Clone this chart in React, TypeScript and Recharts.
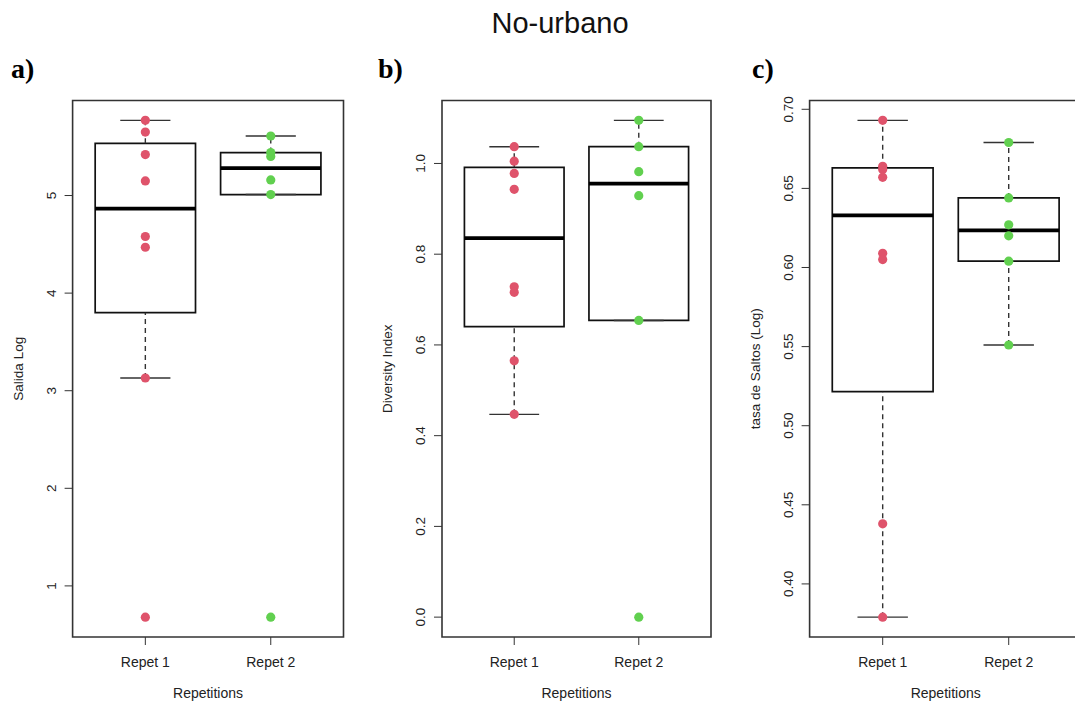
import React from 'react';
import {
  ComposedChart, Scatter, XAxis, YAxis, ReferenceArea, ReferenceLine, Label,
} from 'recharts';

// values, one array per repetition
const categories = ['Repet 1', 'Repet 2'];

const salidaRepet1 = [5.77, 5.65, 5.42, 5.15, 4.58, 4.47, 3.13, 0.68];
const salidaRepet2 = [5.61, 5.44, 5.40, 5.16, 5.01, 0.68];

const diversityRepet1 = [1.037, 1.005, 0.978, 0.943, 0.728, 0.716, 0.565, 0.447];
const diversityRepet2 = [1.095, 1.037, 0.982, 0.929, 0.654, 0.0];

const saltosRepet1 = [0.693, 0.664, 0.662, 0.657, 0.609, 0.605, 0.438, 0.379];
const saltosRepet2 = [0.679, 0.644, 0.627, 0.620, 0.604, 0.551];

const salidaTicks = [1, 2, 3, 4, 5];
const diversityTicks = [0, 0.2, 0.4, 0.6, 0.8, 1.0];
const saltosTicks = [0.4, 0.45, 0.5, 0.55, 0.6, 0.65, 0.7];

const groupColors = ['#DF536B', '#61D04F'];
const FONT = '"Liberation Sans", Arial, sans-serif';

// Tukey hinges, same as R's fivenum()
function fivenum(values: number[]) {
  const s = [...values].sort((a, b) => a - b);
  const n = s.length;
  const n4 = Math.floor((n + 3) / 2) / 2;
  const d = [1, n4, (n + 1) / 2, n + 1 - n4, n];
  return d.map((i) => 0.5 * (s[Math.floor(i) - 1] + s[Math.ceil(i) - 1]));
}

function boxStats(values: number[]) {
  const [, q1, med, q3] = fivenum(values);
  const iqr = q3 - q1;
  const inside = values.filter((v) => v >= q1 - 1.5 * iqr && v <= q3 + 1.5 * iqr);
  return {
    q1, med, q3, lo: Math.min(...inside), hi: Math.max(...inside),
  };
}

type PanelProps = {
  left: number;
  width: number;
  axisWidth: number;
  rightMargin: number;
  groups: number[][];
  ticks: number[];
  digits: number;
  yTitle: string;
};

const YTick = (props: any) => {
  const { x, y, payload, digits } = props;
  return (
    <text
      x={x}
      y={y}
      transform={`rotate(-90 ${x} ${y})`}
      textAnchor="middle"
      fontSize={13.5}
      fontFamily={FONT}
      fill="#222"
    >
      {Number(payload.value).toFixed(digits)}
    </text>
  );
};

function Panel({
  left, width, axisWidth, rightMargin, groups, ticks, digits, yTitle,
}: PanelProps) {
  const all = groups.flat();
  const mn = Math.min(...all);
  const mx = Math.max(...all);
  const pad = (mx - mn) * 0.04;
  const yDomain: [number, number] = [mn - pad, mx + pad];
  const xDomain: [number, number] = [0.42, 2.58];

  return (
    <div style={{ position: 'absolute', left, top: 0 }}>
      <ComposedChart
        width={width}
        height={703}
        margin={{ top: 100.5, right: rightMargin, bottom: 0, left: 0 }}
      >
        <XAxis
          type="number"
          dataKey="x"
          domain={xDomain}
          ticks={[1, 2]}
          allowDataOverflow
          height={66}
          axisLine={false}
          tickLine={{ stroke: '#333' }}
          tickSize={8}
          tickMargin={12}
          tick={{ fill: '#222', fontSize: 14, fontFamily: FONT }}
          tickFormatter={(v: number) => categories[v - 1]}
        >
          <Label
            content={(p: any) => {
              const vb = p.viewBox;
              return (
                <text
                  x={vb.x + vb.width / 2}
                  y={vb.y + 61}
                  textAnchor="middle"
                  fontSize={14}
                  fontFamily={FONT}
                  fill="#222"
                >
                  Repetitions
                </text>
              );
            }}
          />
        </XAxis>
        <YAxis
          type="number"
          dataKey="y"
          domain={yDomain}
          ticks={ticks}
          allowDataOverflow
          width={axisWidth}
          axisLine={false}
          tickLine={{ stroke: '#333' }}
          tickSize={8}
          tickMargin={9}
          tick={<YTick digits={digits} />}
        >
          <Label
            content={(p: any) => {
              const vb = p.viewBox;
              const cx = vb.x + vb.width - 50;
              const cy = vb.y + vb.height / 2;
              return (
                <text
                  x={cx}
                  y={cy}
                  transform={`rotate(-90 ${cx} ${cy})`}
                  textAnchor="middle"
                  fontSize={13.5}
                  fontFamily={FONT}
                  fill="#222"
                >
                  {yTitle}
                </text>
              );
            }}
          />
        </YAxis>

        <ReferenceArea
          x1={xDomain[0]}
          x2={xDomain[1]}
          y1={yDomain[0]}
          y2={yDomain[1]}
          fill="none"
          stroke="#333"
          strokeWidth={1.6}
        />

        {groups.map((vals, gi) => {
          const pos = gi + 1;
          const s = boxStats(vals);
          return (
            <React.Fragment key={`box-${gi}`}>
              <ReferenceLine
                segment={[{ x: pos, y: s.q3 }, { x: pos, y: s.hi }]}
                stroke="#333"
                strokeWidth={1.4}
                strokeDasharray="5 4"
              />
              <ReferenceLine
                segment={[{ x: pos, y: s.lo }, { x: pos, y: s.q1 }]}
                stroke="#333"
                strokeWidth={1.4}
                strokeDasharray="5 4"
              />
              <ReferenceLine
                segment={[{ x: pos - 0.2, y: s.hi }, { x: pos + 0.2, y: s.hi }]}
                stroke="#333"
                strokeWidth={1.4}
              />
              <ReferenceLine
                segment={[{ x: pos - 0.2, y: s.lo }, { x: pos + 0.2, y: s.lo }]}
                stroke="#333"
                strokeWidth={1.4}
              />
              <ReferenceArea
                x1={pos - 0.4}
                x2={pos + 0.4}
                y1={s.q1}
                y2={s.q3}
                fill="none"
                stroke="#111"
                strokeWidth={1.7}
              />
              <ReferenceLine
                segment={[{ x: pos - 0.4, y: s.med }, { x: pos + 0.4, y: s.med }]}
                stroke="#000"
                strokeWidth={3.8}
              />
            </React.Fragment>
          );
        })}

        {groups.map((vals, gi) => (
          <Scatter
            key={`pts-${gi}`}
            data={vals.map((v) => ({ x: gi + 1, y: v }))}
            isAnimationActive={false}
            shape={(p: any) => <circle cx={p.cx} cy={p.cy} r={4.6} fill={groupColors[gi]} />}
          />
        ))}
      </ComposedChart>
    </div>
  );
}

export default function App() {
  return (
    <div
      style={{
        position: 'absolute',
        left: 0,
        top: 0,
        width: 1075,
        height: 703,
        overflow: 'hidden',
        background: '#fff',
      }}
    >
      <svg
        width={1075}
        height={703}
        style={{ position: 'absolute', left: 0, top: 0 }}
      >
        <text x={560} y={33} textAnchor="middle" fontSize={29} fontFamily={FONT} fill="#111">
          No-urbano
        </text>
        <text x={11} y={78} fontSize={28} fontWeight="bold" fontFamily='"Liberation Serif", serif'>a)</text>
        <text x={378} y={78} fontSize={28} fontWeight="bold" fontFamily='"Liberation Serif", serif'>b)</text>
        <text x={752} y={78} fontSize={28} fontWeight="bold" fontFamily='"Liberation Serif", serif'>c)</text>
      </svg>

      <Panel
        left={0}
        width={360}
        axisWidth={72.6}
        rightMargin={16.5}
        groups={[salidaRepet1, salidaRepet2]}
        ticks={salidaTicks}
        digits={0}
        yTitle="Salida Log"
      />
      <Panel
        left={370}
        width={350}
        axisWidth={72}
        rightMargin={9}
        groups={[diversityRepet1, diversityRepet2]}
        ticks={diversityTicks}
        digits={1}
        yTitle="Diversity Index"
      />
      <Panel
        left={737}
        width={360}
        axisWidth={72.6}
        rightMargin={15.2}
        groups={[saltosRepet1, saltosRepet2]}
        ticks={saltosTicks}
        digits={2}
        yTitle="tasa de Saltos (Log)"
      />
    </div>
  );
}
